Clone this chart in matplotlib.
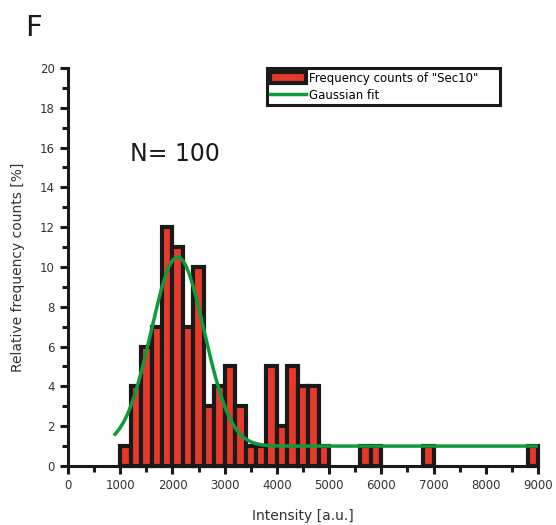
import matplotlib.pyplot as plt
import numpy as np

# histogram bins (lower edges, 200 wide) and counts [%]
bin_left = [1000, 1200, 1400, 1600, 1800, 2000, 2200, 2400, 2600, 2800,
            3000, 3200, 3400, 3600, 3800, 4000, 4200, 4400, 4600, 4800,
            5600, 5800, 6800, 8800]
counts = [1, 4, 6, 7, 12, 11, 7, 10, 3, 4,
          5, 3, 1, 1, 5, 2, 5, 4, 4, 1,
          1, 1, 1, 1]
bin_width = 200

# gaussian fit parameters
fit_y0 = 1.0
fit_amp = 9.5
fit_xc = 2100
fit_w = 510
fit_range = (900, 9000)

fig = plt.figure(figsize=(5.56, 5.25), dpi=100)
ax = fig.add_axes([0.1223, 0.1124, 0.8453, 0.7581])

bars = ax.bar(bin_left, counts, width=bin_width, align="edge", color="#e53a2c",
              edgecolor="#1a1a1a", linewidth=3.0, label='Frequency counts of "Sec10"',
              zorder=2, clip_on=False)

xf = np.linspace(fit_range[0], fit_range[1], 800)
yf = fit_y0 + fit_amp * np.exp(-(xf - fit_xc) ** 2 / (2 * fit_w ** 2))
line, = ax.plot(xf, yf, color="#109a3c", linewidth=2.5, label="Gaussian fit", zorder=3)

ax.set_xlim(0, 9000)
ax.set_ylim(0, 20)
ax.set_xticks(np.arange(0, 9001, 1000))
ax.set_xticks(np.arange(500, 9000, 1000), minor=True)
ax.set_yticks(np.arange(0, 21, 2))
ax.set_yticks(np.arange(1, 20, 2), minor=True)

for s in ["top", "right"]:
    ax.spines[s].set_visible(False)
for s in ["left", "bottom"]:
    ax.spines[s].set_linewidth(2.2)
    ax.spines[s].set_color("#1a1a1a")
ax.tick_params(which="major", direction="out", length=6, width=2.2, labelsize=8.5,
               colors="#1a1a1a", labelcolor="#333333")
ax.tick_params(which="minor", direction="out", length=4, width=2.2, colors="#1a1a1a")

ax.set_xlabel("Intensity [a.u.]", fontsize=10, color="#333333", labelpad=12)
ax.set_ylabel("Relative frequency counts [%]", fontsize=10, color="#333333", labelpad=11)

ax.text(1190, 15.7, "N= 100", fontsize=17, color="#1a1a1a", ha="left", va="center")
fig.text(0.045, 0.947, "F", fontsize=21, color="#1a1a1a", ha="left", va="center")

leg = ax.legend([bars, line], ['Frequency counts of "Sec10"', "Gaussian fit"],
                loc="upper left", bbox_to_anchor=(0.423, 1.0, 0.496, 0.0), mode="expand",
                fontsize=8.5, frameon=True, fancybox=False, borderpad=0.3,
                handlelength=3.0, handleheight=1.0, handletextpad=0.3,
                labelspacing=0.35, borderaxespad=0, framealpha=1)
leg.get_frame().set_edgecolor("#1a1a1a")
leg.get_frame().set_linewidth(2.2)

fig.savefig("out.png", dpi=100)
